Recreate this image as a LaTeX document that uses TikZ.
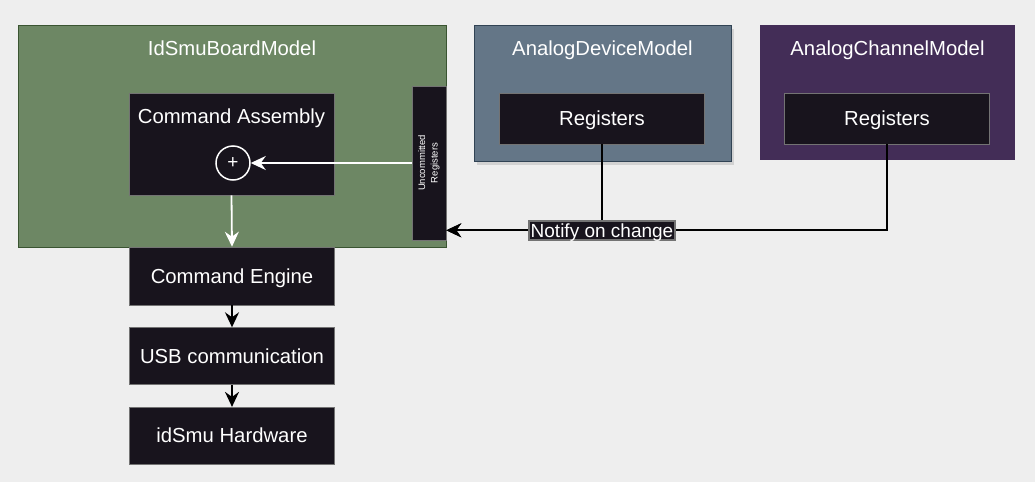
\documentclass[tikz,border=0pt]{standalone}
\usepackage{fontspec}
\setmainfont{Liberation Sans}
\usetikzlibrary{positioning,arrows.meta,shadows}

\definecolor{bggray}{HTML}{EEEEEE}
\definecolor{boardfill}{HTML}{6D8764}
\definecolor{boardline}{HTML}{3A5431}
\definecolor{devfill}{HTML}{647687}
\definecolor{devline}{HTML}{314354}
\definecolor{chanfill}{HTML}{432D57}
\definecolor{boxdark}{HTML}{18141D}

\begin{document}
\begin{tikzpicture}[x=1pt,y=-1pt,
  every node/.style={align=center, text=white, inner sep=0pt, font=\fontsize{20.3}{24}\selectfont},
  capped/.style={text height=14.8pt, text depth=0.3pt},
  model/.style={minimum width=#1, line width=1pt},
  darkbox/.style={capped, fill=boxdark, draw=black!55, line width=0.6pt, minimum width=205pt},
  title/.style={capped, anchor=center, yshift=-23.5pt},
  flow/.style={-{Stealth[length=15pt,width=14pt,inset=5pt]}, line width=2pt, draw=black},
  wflow/.style={flow, line width=1.8pt, draw=white, color=white},
  notify/.style={fill=boxdark, draw=black!55, inner sep=1.5pt, text height=15.2pt, text depth=0.8pt,
    font=\fontsize{19}{22}\selectfont}]

\useasboundingbox[fill=bggray] (0,0) rectangle (1035,482);

% Models along the top
\node[model=428pt, minimum height=222pt, fill=boardfill, draw=boardline,
  label={[title]north:IdSmuBoardModel}] (board) at (232,136) {};
\node[model=257pt, minimum height=136pt, fill=devfill, draw=devline,
  drop shadow={opacity=0.25, shadow xshift=3pt, shadow yshift=-4pt},
  label={[title]north:AnalogDeviceModel}] (device) at (602.5,93) {};
\node[model=255pt, minimum height=135pt, fill=chanfill,
  label={[title]north:AnalogChannelModel}] (channel) at (887.5,92.5) {};

% Boxes inside the models
\node[darkbox, minimum height=102pt, label={[title]north:Command Assembly}] (assembly) at (231.5,144) {};
\node[draw=white, line width=1.5pt, circle, minimum size=34pt, font=\fontsize{19}{20}\selectfont] (plus) at (233,163) {+};
\node[darkbox, minimum width=34pt, minimum height=154pt,
  label={[rotate=90, anchor=center, align=center, font=\fontsize{9.5}{12.5}\selectfont]center:Uncommitted\\Registers}] (uncommitted) at (429,163) {};
\node[darkbox, minimum height=51pt] (devRegs) at (602,118.5) {Registers};
\node[darkbox, minimum height=51pt] (chanRegs) at (887,118.5) {Registers};

% Stack below the board
\node[darkbox, minimum height=58pt] (engine) at (232,276) {Command Engine};
\node[darkbox, minimum height=57pt, below=22pt of engine] (usb) {USB communication};
\node[darkbox, minimum height=57pt, below=22pt of usb] (hardware) {idSmu Hardware};

% Connectors
\draw[wflow] (uncommitted.west) -- (plus.east);
\draw[wflow] (assembly.south) -- (engine.north);
\draw[flow] (engine) -- (usb);
\draw[flow] (usb) -- (hardware);
\draw[flow] (chanRegs.south) |- ([yshift=10pt]uncommitted.south east);
\draw[flow] (devRegs.south) |- node[notify] {Notify on change} ([yshift=10pt]uncommitted.south east);

\end{tikzpicture}
\end{document}
